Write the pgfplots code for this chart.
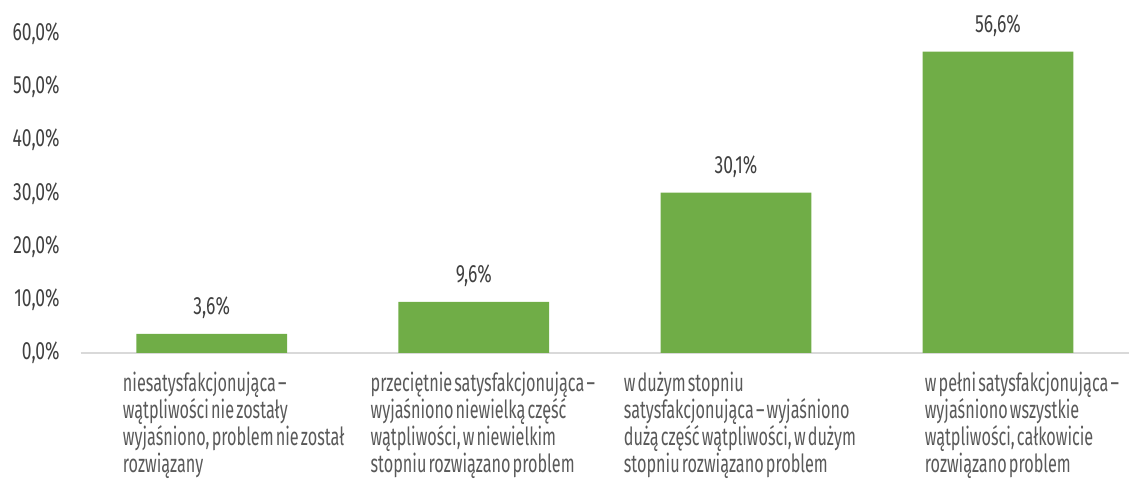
\documentclass[border=0pt]{standalone}
\usepackage{pgfplots}
\pgfplotsset{compat=1.18}
\usepackage{fontspec}
\setmainfont[FakeStretch=0.70, WordSpace={0.55}]{Fira Sans}
\newfontfamily\catfont[FakeStretch=0.65, WordSpace={0.5}]{Fira Sans}
\definecolor{bargreen}{HTML}{70AD47}
\definecolor{txtgray}{HTML}{595959}
\definecolor{lblgray}{HTML}{404040}
\definecolor{axgray}{HTML}{D9D9D9}
% category label, shifted right by half of #1
\newcommand{\lbl}[2]{\hspace*{#1}\begin{tabular}{@{}l@{}}#2\end{tabular}}

\begin{document}
\begin{tikzpicture}
\begin{axis}[
    scale only axis,
    width=525pt,
    height=160pt,
    ybar,
    bar width=75.5pt,
    xmin=-0.5, xmax=3.5,
    ymin=0, ymax=60,
    ytick={0,10,20,30,40,50,60},
    xtick=data,
    xticklabels={
        {\lbl{22pt}{niesatysfakcjonująca –\\wątpliwości nie zostały\\wyjaśniono, problem nie został\\rozwiązany}},
        {\lbl{9pt}{przeciętnie satysfakcjonująca –\\wyjaśniono niewielką część\\wątpliwości, w niewielkim\\stopniu rozwiązano problem}},
        {\lbl{4pt}{w dużym stopniu\\satysfakcjonująca – wyjaśniono\\dużą część wątpliwości, w dużym\\stopniu rozwiązano problem}},
        {\lbl{24pt}{w pełni satysfakcjonująca –\\wyjaśniono wszystkie\\wątpliwości, całkowicie\\rozwiązano problem}}},
    xticklabel style={anchor=north, yshift=-6pt, inner xsep=0pt,
        font=\catfont\fontsize{12.5}{12}\selectfont, text=txtgray},
    yticklabel={\pgfmathprintnumber[fixed,fixed zerofill,precision=1,use comma]{\tick}\%},
    yticklabel style={font=\fontsize{12.5}{13}\selectfont, text=lblgray, xshift=-7pt},
    /pgf/number format/assume math mode=true,
    axis x line*=bottom,
    axis y line*=left,
    y axis line style={draw=none},
    x axis line style={draw=axgray, line width=1pt},
    major tick length=0pt,
    nodes near coords={\pgfmathprintnumber[fixed,fixed zerofill,precision=1,use comma]{\pgfplotspointmeta}\%},
    nodes near coords style={font=\fontsize{12.5}{13}\selectfont, text=lblgray, anchor=south, yshift=4pt},
]
\addplot[fill=bargreen, draw=none] coordinates {
    (0,3.6) (1,9.6) (2,30.1) (3,56.6)
};
\end{axis}
\path ([shift={(-3pt,-1.5pt)}]current bounding box.south west)
      ([shift={(2pt,4pt)}]current bounding box.north east);
\end{tikzpicture}
\end{document}
